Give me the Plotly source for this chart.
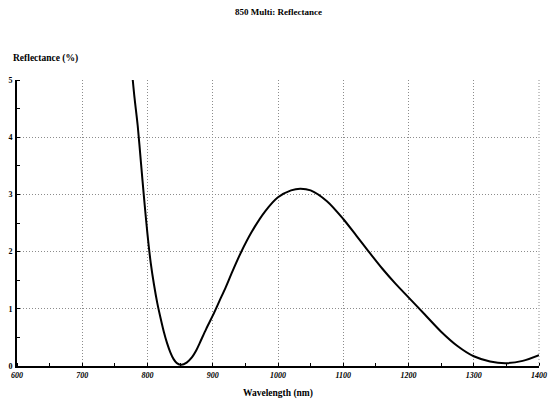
import plotly.graph_objects as go

# values
wavelength  = [777, 780, 785, 790, 795, 800, 805, 810, 815, 820, 825, 830,
               835, 840, 845, 852, 860, 868, 875, 880, 890, 900, 910, 920,
               930, 943, 960, 980, 1000, 1020, 1034, 1050, 1075, 1100,
               1120, 1139, 1160, 1180, 1200, 1225, 1250, 1275, 1300, 1325,
               1349, 1375, 1400]
reflectance = [5.05, 4.7, 4.2, 3.55, 2.9, 2.3, 1.8, 1.42, 1.1, 0.84, 0.6,
               0.4, 0.24, 0.12, 0.05, 0.02, 0.06, 0.15, 0.28, 0.4, 0.65,
               0.88, 1.13, 1.38, 1.65, 1.98, 2.35, 2.7, 2.95, 3.07, 3.1,
               3.07, 2.88, 2.57, 2.28, 2.0, 1.7, 1.44, 1.2, 0.9, 0.6, 0.35,
               0.17, 0.08, 0.05, 0.09, 0.19]

x_ticks = [600, 700, 800, 900, 1000, 1100, 1200, 1300, 1400]
y_ticks = [0, 1, 2, 3, 4, 5]

serif = "Liberation Serif, Times New Roman, serif"
grid_colour = "#8c8c8c"

fig = go.Figure()

fig.add_trace( go.Scatter( x=wavelength,
                           y=reflectance,
                           mode="lines",
                           line=dict( color="black", width=2,
                                      shape="spline", smoothing=0.8 ),
                           showlegend=False ) )

fig.update_xaxes( range=[600, 1400],
                  tickvals=x_ticks,
                  ticktext=["<b><i>%d</i></b>" % v for v in x_ticks],
                  tickfont=dict( family=serif, size=8, color="black" ),
                  showgrid=True,
                  gridcolor=grid_colour,
                  griddash="1px,2px",
                  gridwidth=1,
                  showline=True,
                  linecolor="black",
                  linewidth=2,
                  ticks="",
                  minor=dict( dtick=50, ticks="inside", ticklen=3,
                              tickcolor="black", showgrid=False ),
                  zeroline=False )

fig.update_yaxes( range=[0, 5],
                  tickvals=y_ticks,
                  ticktext=["<b>%d</b>" % v for v in y_ticks],
                  tickfont=dict( family=serif, size=8, color="black" ),
                  showgrid=True,
                  gridcolor=grid_colour,
                  griddash="1px,2px",
                  gridwidth=1,
                  showline=True,
                  linecolor="black",
                  linewidth=2,
                  ticks="",
                  ticklabelstandoff=1,
                  minor=dict( dtick=0.5, ticks="inside", ticklen=3,
                              tickcolor="black", showgrid=False ),
                  zeroline=False )

# right edge dotted border
fig.update_layout( shapes=[ dict( type="line", xref="paper", yref="paper",
                                  x0=1, x1=1, y0=0, y1=1,
                                  line=dict( color=grid_colour, width=1,
                                             dash="1px,2px" ) ) ] )

fig.add_annotation( text="<b>850 Multi: Reflectance</b>",
                    xref="paper", yref="paper", x=0.5, y=1,
                    xanchor="center", yanchor="middle",
                    yshift=68, showarrow=False,
                    font=dict( family=serif, size=9, color="black" ) )

fig.add_annotation( text="<b>Reflectance (%)</b>",
                    xref="paper", yref="paper", x=0, y=1,
                    xanchor="left", yanchor="middle",
                    xshift=-6, yshift=22, showarrow=False,
                    font=dict( family=serif, size=9.5, color="black" ) )

fig.add_annotation( text="<b>Wavelength (nm)</b>",
                    xref="paper", yref="paper", x=0.5, y=0,
                    xanchor="center", yanchor="middle",
                    yshift=-27, showarrow=False,
                    font=dict( family=serif, size=9.5, color="black" ) )

fig.update_layout( width=555, height=403,
                   margin=dict( l=13, r=8, t=80, b=37 ),
                   plot_bgcolor="white",
                   paper_bgcolor="white" )

# drop the browser's default body margin so the figure sits at the page corner
fig.write_html("out.html",
               config=dict( displayModeBar=False ),
               post_script="document.body.style.margin='0';document.body.style.overflow='hidden';")
